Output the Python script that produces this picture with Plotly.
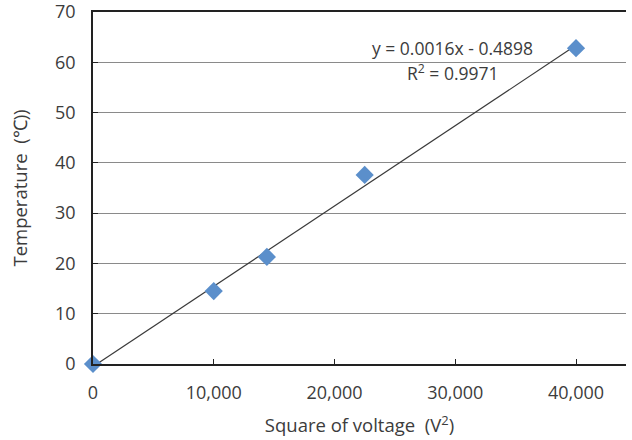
import numpy as np
import plotly.graph_objects as go

# Data
voltage_sq = [0, 10000, 14400, 22500, 40000]
temperature = [0, 14.5, 21.3, 37.6, 62.8]
x_ticks = [0, 10000, 20000, 30000, 40000]
x_tick_labels = ["0", "10,000", "20,000", "30,000", "40,000"]
y_ticks = [0, 10, 20, 30, 40, 50, 60, 70]
equation_text = "y = 0.0016x - 0.4898"
r2_text = "R<sup>2</sup> = 0.9971"

slope, intercept = np.polyfit(voltage_sq, temperature, 1)
trend_x = [min(voltage_sq), max(voltage_sq)]
trend_y = [slope * v + intercept for v in trend_x]

FONT = "Open Sans"
TXT = "#3c3c3c"

fig = go.Figure()
fig.add_trace(go.Scatter(x=trend_x, y=trend_y, mode="lines",
                         line=dict(color="#3a3a3a", width=1.2),
                         hoverinfo="skip", showlegend=False, cliponaxis=False))
fig.add_trace(go.Scatter(x=voltage_sq, y=temperature, mode="markers",
                         marker=dict(symbol="diamond", size=14, color="#5b8fcb"),
                         showlegend=False, cliponaxis=False))

fig.add_annotation(x=29800, y=62.8, xref="x", yref="y", text=equation_text,
                   showarrow=False, xanchor="center", yanchor="middle",
                   font=dict(family=FONT, size=17.5, color=TXT))
fig.add_annotation(x=29800, y=58.0, xref="x", yref="y", text=r2_text,
                   showarrow=False, xanchor="center", yanchor="middle",
                   font=dict(family=FONT, size=17.5, color=TXT))

fig.update_layout(
    width=632, height=440,
    margin=dict(l=93, r=6, t=12, b=76),
    paper_bgcolor="white", plot_bgcolor="white",
    font=dict(family=FONT, size=18, color=TXT),
    xaxis=dict(range=[0, 44140], tickvals=x_ticks, ticktext=x_tick_labels,
               showgrid=False, zeroline=False, showline=True, linecolor="#222",
               linewidth=1.5, ticks="inside", ticklen=5, tickcolor="#222",
               mirror=True,
               automargin=False, ticklabelstandoff=12,
               tickfont=dict(family=FONT, size=18, color=TXT),
               title=dict(text="Square of voltage  (V<sup>2</sup>)", standoff=16,
                          font=dict(family=FONT, size=18.5, color=TXT))),
    yaxis=dict(range=[0, 70], tickvals=y_ticks,
               showgrid=True, gridcolor="#8a8a8a", gridwidth=1,
               zeroline=False, showline=True, linecolor="#222", linewidth=1.5,
               ticks="inside", ticklen=5, tickcolor="#222",
               ticklabelstandoff=12, automargin=False,
               ticklabeloverflow="allow",
               tickfont=dict(family=FONT, size=18, color=TXT),
               title=dict(text="Temperature  (℃))", standoff=23,
                          font=dict(family=FONT, size=18.5, color=TXT))),
)

fig.write_html("out.html", config={"displayModeBar": False},
               post_script="document.body.style.margin='0';")
